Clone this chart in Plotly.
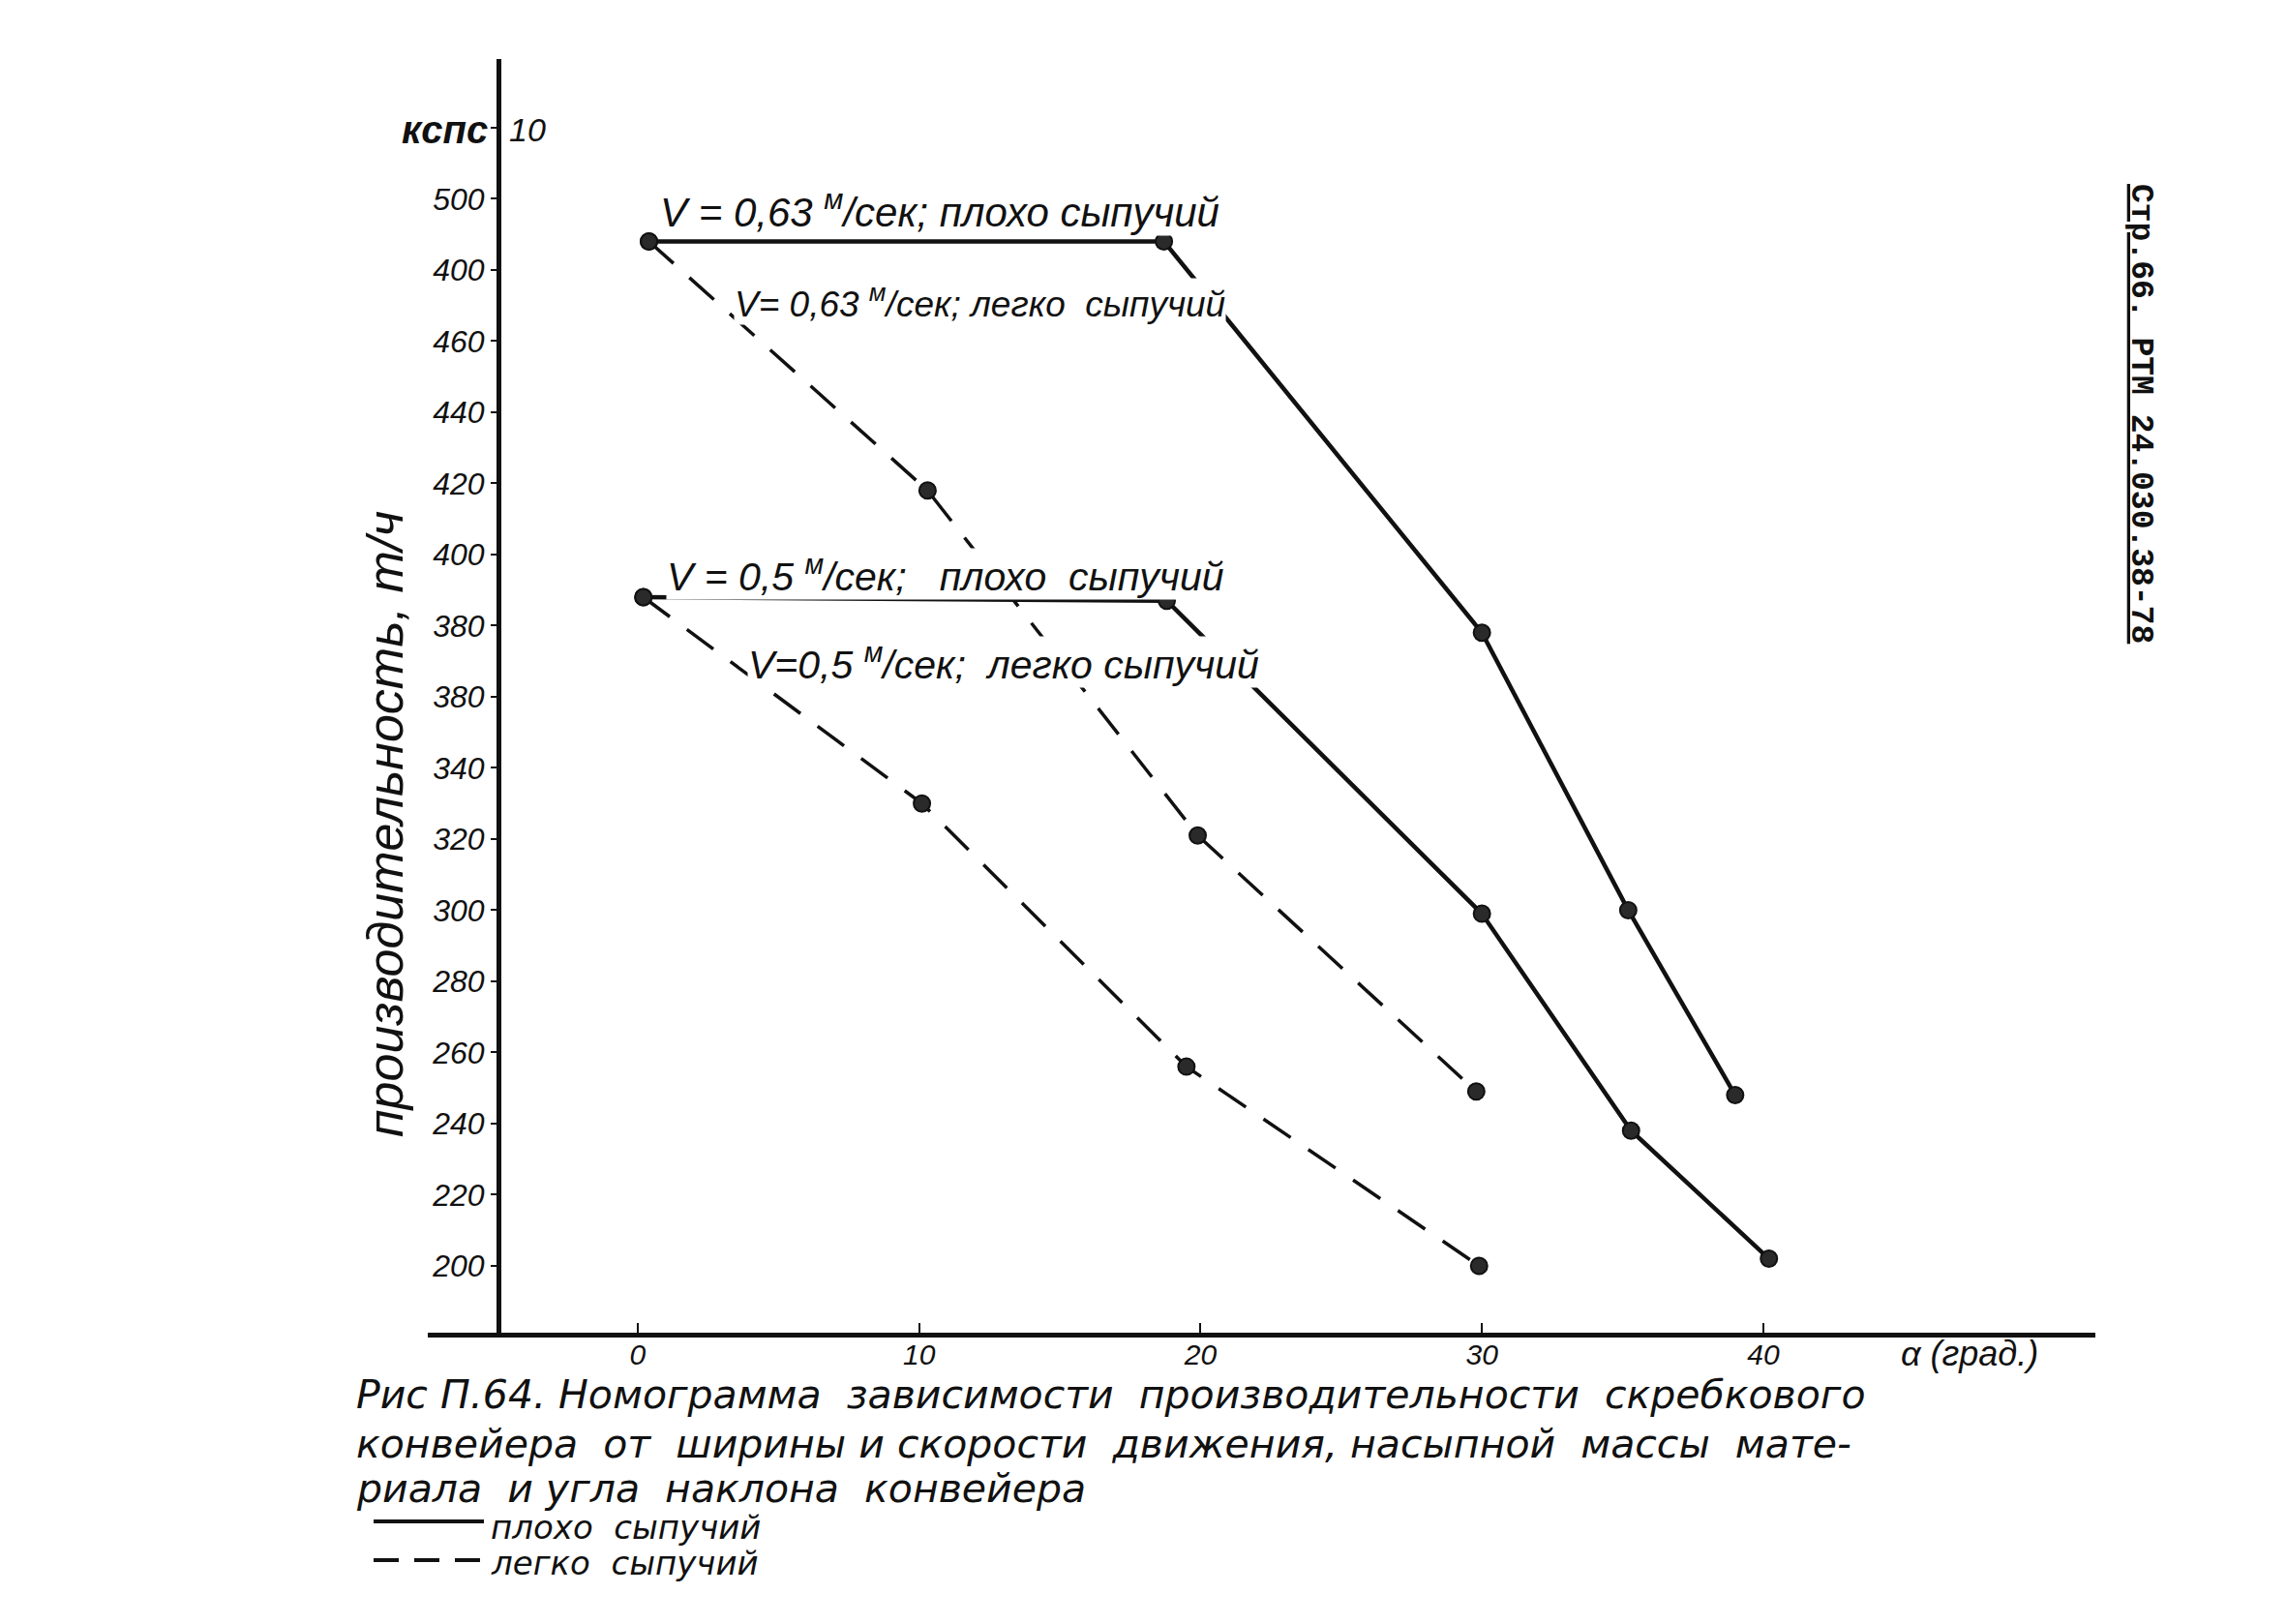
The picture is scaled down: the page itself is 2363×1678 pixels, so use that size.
import plotly.graph_objects as go

# ---------------- data ----------------
angle_063_poor = [0.4, 18.7, 30.0, 35.2, 39.0]
prod_063_poor = [488, 488, 378, 300, 248]

angle_063_easy = [0.4, 10.3, 19.9, 29.8]
prod_063_easy = [488, 418, 321, 249]

angle_05_poor = [0.2, 18.8, 30.0, 35.3, 40.2]
prod_05_poor = [388, 387, 299, 238, 202]

angle_05_easy = [0.2, 10.1, 19.5, 29.9]
prod_05_easy = [388, 330, 256, 200]

x_tickvals = [0, 10, 20, 30, 40]
x_ticktext = ["0", "10", "20", "30", "40"]

y_tickvals = [200, 220, 240, 260, 280, 300, 320, 340, 360, 380, 400, 420, 440, 460, 480, 500, 520]
y_ticktext = ["200", "220", "240", "260", "280", "300", "320", "340", "380", "380", "400", "420",
              "440", "460", "400", "500", ""]

# ---------------- geometry (pixels) ----------------
W, H = 2363, 1678
L, R, T, B = 442, 2165, 61, 1377
X_RANGE = [-7.46, 51.8]
Y_RANGE = [181.2, 539.3]


def px(xp):
    return (xp - L) / (R - L)


def py(yp):
    return (B - yp) / (B - T)


FONT = "Liberation Sans Narrow, Liberation Sans, Arial, sans-serif"
WIDE = "DejaVu Sans, Liberation Sans, sans-serif"
ink = "#111111"

fig = go.Figure()

marker = dict(symbol="circle", size=17, color="#2a2a2a", line=dict(color=ink, width=2))

fig.add_trace(go.Scatter(x=angle_063_easy, y=prod_063_easy, mode="lines+markers",
                         line=dict(color=ink, width=3.5, dash="34px,22px"), marker=marker))
fig.add_trace(go.Scatter(x=angle_05_easy, y=prod_05_easy, mode="lines+markers",
                         line=dict(color=ink, width=3.5, dash="34px,22px"), marker=marker))
fig.add_trace(go.Scatter(x=angle_063_poor, y=prod_063_poor, mode="lines+markers",
                         line=dict(color=ink, width=4.5), marker=marker))
fig.add_trace(go.Scatter(x=angle_05_poor, y=prod_05_poor, mode="lines+markers",
                         line=dict(color=ink, width=4.5), marker=marker))

labels = [
    ("V = 0,63 <sup>м</sup>/сек; плохо сыпучий", 681, 216, 42),
    ("V= 0,63 <sup>м</sup>/сек; легко  сыпучий", 758, 311, 37),
    ("V = 0,5 <sup>м</sup>/сек;   плохо  сыпучий", 688, 593, 41),
    ("V=0,5 <sup>м</sup>/сек;  легко сыпучий", 772, 684, 41),
]
for text, x0, y0, fs in labels:
    fig.add_annotation(text=text, x=px(x0), y=py(y0), xref="paper", yref="paper",
                       xanchor="left", yanchor="middle", showarrow=False,
                       font=dict(family=FONT, size=fs, color=ink, style="italic"),
                       bgcolor="white", borderpad=0)

# top tick labels: "кспс" left, "10" right
fig.add_annotation(text="кспс", x=px(506), y=py(134), xref="paper", yref="paper",
                   xanchor="right", yanchor="middle", showarrow=False,
                   font=dict(family=FONT, size=40, color=ink, style="italic", weight="bold"))
fig.add_annotation(text="10", x=px(524), y=py(134), xref="paper", yref="paper",
                   xanchor="left", yanchor="middle", showarrow=False,
                   font=dict(family=FONT, size=34, color=ink, style="italic"))

# x axis title
fig.add_annotation(text="α (град.)", x=px(1962), y=py(1398), xref="paper", yref="paper",
                   xanchor="left", yanchor="middle", showarrow=False,
                   font=dict(family=FONT, size=36, color=ink, style="italic"))

# y axis title
fig.add_annotation(text="производительность, т/ч", x=px(398), y=py(852), xref="paper", yref="paper",
                   xanchor="center", yanchor="middle", showarrow=False, textangle=-90,
                   font=dict(family=FONT, size=52, color=ink, style="italic"))

# right margin document reference
fig.add_annotation(text="<u>Стр.66. РТМ 24.030.38-78</u>", x=px(2212), y=py(427),
                   xref="paper", yref="paper", xanchor="center", yanchor="middle",
                   showarrow=False, textangle=90,
                   font=dict(family="Liberation Mono, DejaVu Sans Mono, monospace", size=33,
                             color=ink, weight="bold"))

# caption
cap_font = dict(family=WIDE, size=41, color=ink, style="italic")
caption = [
    ("Рис П.64. Номограмма  зависимости  производительности  скребкового", 366, 1441),
    ("конвейера  от  ширины и скорости  движения, насыпной  массы  мате-", 366, 1492),
    ("риала  и угла  наклона  конвейера", 366, 1538),
]
for text, x0, y0 in caption:
    fig.add_annotation(text=text, x=px(x0), y=py(y0), xref="paper", yref="paper",
                       xanchor="left", yanchor="middle", showarrow=False, font=cap_font)

leg_font = dict(family=WIDE, size=34, color=ink, style="italic")
fig.add_annotation(text="плохо  сыпучий", x=px(505), y=py(1578), xref="paper", yref="paper",
                   xanchor="left", yanchor="middle", showarrow=False, font=leg_font)
fig.add_annotation(text="легко  сыпучий", x=px(505), y=py(1615), xref="paper", yref="paper",
                   xanchor="left", yanchor="middle", showarrow=False, font=leg_font)
fig.add_shape(type="line", xref="paper", yref="paper", x0=px(386), x1=px(500),
              y0=py(1572), y1=py(1572), line=dict(color=ink, width=4))
fig.add_shape(type="line", xref="paper", yref="paper", x0=px(386), x1=px(500),
              y0=py(1612), y1=py(1612), line=dict(color=ink, width=4, dash="26px,16px"))

yaxis_pos = px(515)

fig.update_layout(
    width=W, height=H, autosize=False,
    margin=dict(l=L, r=W - R, t=T, b=H - B, pad=0),
    paper_bgcolor="white", plot_bgcolor="white",
    showlegend=False,
    xaxis=dict(range=X_RANGE, showgrid=False, zeroline=False, showline=True,
               linecolor=ink, linewidth=5, ticks="inside", ticklen=10, tickwidth=2,
               tickcolor=ink, tickvals=x_tickvals, ticktext=x_ticktext,
               tickfont=dict(family=FONT, size=30, color=ink, style="italic"),
               ticklabelstandoff=-8),
    yaxis=dict(range=Y_RANGE, showgrid=False, zeroline=False, showline=True,
               anchor="free", position=yaxis_pos,
               linecolor=ink, linewidth=5, ticks="outside", ticklen=6, tickwidth=2,
               tickcolor=ink, tickvals=y_tickvals, ticktext=y_ticktext,
               tickfont=dict(family=FONT, size=32, color=ink, style="italic"),
               ticklabelstandoff=0),
)

fig.write_html("out.html", config={"displayModeBar": False},
               post_script="document.body.style.margin='0';")
